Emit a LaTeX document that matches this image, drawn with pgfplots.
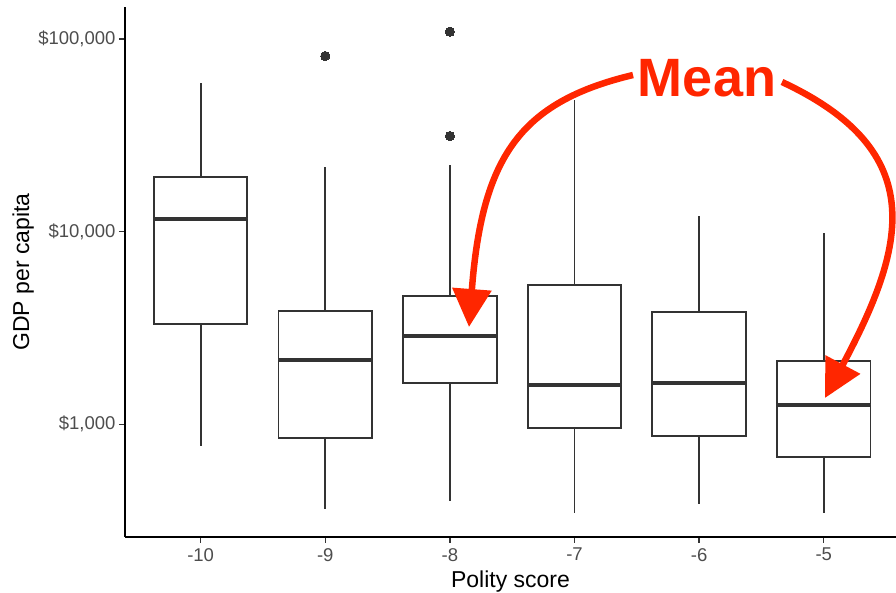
\documentclass[border=0pt]{standalone}
\usepackage{fontspec}
\setmainfont{Liberation Sans}
\usepackage{pgfplots}
\pgfplotsset{compat=1.18}
\usepgfplotslibrary{statistics}
\usetikzlibrary{arrows.meta}
\definecolor{boxgray}{HTML}{333333}
\definecolor{ticklab}{HTML}{4D4D4D}
\definecolor{annred}{HTML}{FF2600}
\pgfplotsset{
  gbox/.style={draw=boxgray, fill=white, line width=1.8pt,
    mark=*, mark size=4.6pt, mark options={fill=boxgray, draw=boxgray, line width=0pt}},
}
\begin{document}
\begin{tikzpicture}[x=1pt,y=1pt]
\useasboundingbox (0,0) rectangle (896,592);
\begin{axis}[
  at={(125pt,55.3pt)}, anchor=south west,
  scale only axis, width=771pt, height=529.7pt,
  xmin=-10.607, xmax=-4.42,
  ymode=log, ymin=260.9, ymax=146800,
  axis x line*=bottom, axis y line*=left,
  axis line style={line width=2pt, black, -},
  xtick={-10,-9,-8,-7,-6,-5},
  xticklabels={-10,-9,-8,-7,-6,-5},
  ytick={1000,10000,100000},
  yticklabels={{\$1,000},{\$10,000},{\$100,000}},
  yminorticks=false, xminorticks=false,
  tick align=outside, major tick length=6pt,
  tick style={line width=1.5pt, boxgray},
  ticklabel style={font=\fontsize{18.5}{21}\selectfont, text=ticklab},
  xticklabel style={yshift=-2pt},
  /pgf/number format/assume math mode=true,
  clip=false,
  boxplot/draw direction=y,
  boxplot/box extend=0.75,
  boxplot/whisker extend=0,
  boxplot/every whisker/.style={line width=1.8pt, draw=boxgray},
  boxplot/every median/.style={line width=4pt, draw=boxgray},
]
\addplot[gbox, boxplot prepared={draw position=-10, lower whisker=774, lower quartile=3318, median=11640, upper quartile=19170, upper whisker=58950}] coordinates {};
\addplot[gbox, boxplot prepared={draw position=-9, lower whisker=363, lower quartile=847, median=2158, upper quartile=3873, upper whisker=21680}] table[row sep=\\, y index=0] {data\\ 81660\\};
\addplot[gbox, boxplot prepared={draw position=-8, lower whisker=401, lower quartile=1638, median=2874, upper quartile=4653, upper whisker=22220}] table[row sep=\\, y index=0] {data\\ 109240\\ 31400\\};
\addplot[gbox, boxplot prepared={draw position=-7, lower whisker=347, lower quartile=957, median=1600, upper quartile=5288, upper whisker=48290}] coordinates {};
\addplot[gbox, boxplot prepared={draw position=-6, lower whisker=387, lower quartile=873, median=1644, upper quartile=3815, upper whisker=12066}] coordinates {};
\addplot[gbox, boxplot prepared={draw position=-5, lower whisker=346, lower quartile=676, median=1260, upper quartile=2132, upper whisker=9810}] coordinates {};
\end{axis}
\node[anchor=base, font=\fontsize{23}{26}\selectfont] at (510.5,5) {Polity score};
\node[rotate=90, anchor=base, font=\fontsize{23}{26}\selectfont] at (29,320) {GDP per capita};
\draw[annred, line width=6.5pt, line cap=butt, -{Triangle[length=38pt,width=38pt]}]
  (633,517) .. controls (520,490) and (482,435) .. (469,265);
\draw[annred, line width=6.5pt, line cap=butt, -{Triangle[length=38pt,width=38pt]}]
  (782,510) .. controls (932,440) and (905,344) .. (825,194);
\node[anchor=base, text=annred, font=\fontsize{54}{60}\bfseries\selectfont] at (707,495) {Mean};
\end{tikzpicture}
\end{document}
